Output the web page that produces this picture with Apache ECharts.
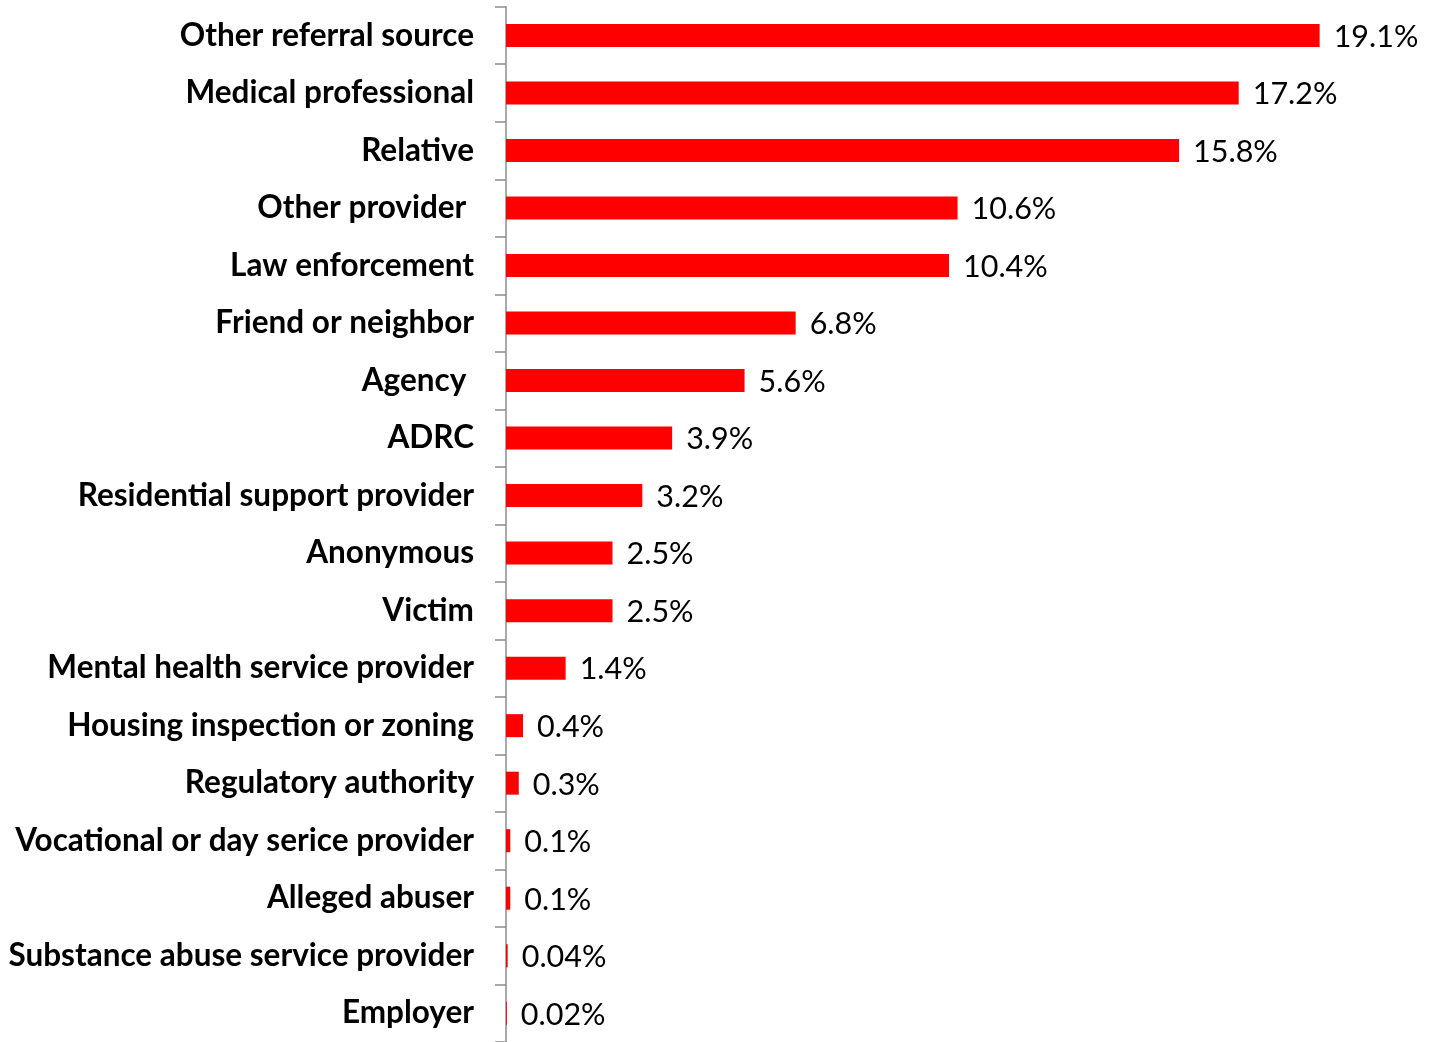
<!DOCTYPE html>
<html>
<head>
<meta charset="utf-8">
<script src="https://cdn.jsdelivr.net/npm/echarts@6/dist/echarts.min.js"></script>
<style>
html,body{margin:0;padding:0;background:#fff;}
#chart{width:1431px;height:1042px;}
</style>
</head>
<body>
<div id="chart"></div>
<script>
const categories = [
  "Other referral source",
  "Medical professional",
  "Relative",
  "Other provider ",
  "Law enforcement",
  "Friend or neighbor",
  "Agency ",
  "ADRC",
  "Residential support provider",
  "Anonymous",
  "Victim",
  "Mental health service provider",
  "Housing inspection or zoning",
  "Regulatory authority",
  "Vocational or day serice provider",
  "Alleged abuser",
  "Substance abuse service provider",
  "Employer"
];
const values = [19.1, 17.2, 15.8, 10.6, 10.4, 6.8, 5.6, 3.9, 3.2, 2.5, 2.5, 1.4, 0.4, 0.3, 0.1, 0.1, 0.04, 0.02];

const chart = echarts.init(document.getElementById('chart'), null, {renderer: 'canvas'});
chart.setOption({
  animation: false,
  backgroundColor: '#ffffff',
  grid: {left: 506, right: 73, top: 6.7, bottom: -4},
  xAxis: {
    type: 'value', min: 0, max: 20, show: false,
    splitLine: {show: false}
  },
  yAxis: {
    type: 'category',
    inverse: true,
    data: categories,
    axisLine: {show: true, lineStyle: {color: '#8c8c8c', width: 1.5}},
    axisTick: {show: true, length: 11, lineStyle: {color: '#8c8c8c', width: 1.5}},
    axisLabel: {
      color: '#000000', fontFamily: 'Lato', fontWeight: 'bold', fontSize: 31.5,
      margin: 32, padding: [3, 0, 0, 0]
    }
  },
  series: [{
    type: 'bar',
    data: values,
    barWidth: 23,
    itemStyle: {color: '#ff0000'},
    label: {
      show: true, position: 'right', distance: 14, offset: [0, 1.5],
      color: '#000000', fontFamily: 'Lato', fontSize: 30.5,
      formatter: p => p.value + '%'
    }
  }]
});
</script>
</body>
</html>
